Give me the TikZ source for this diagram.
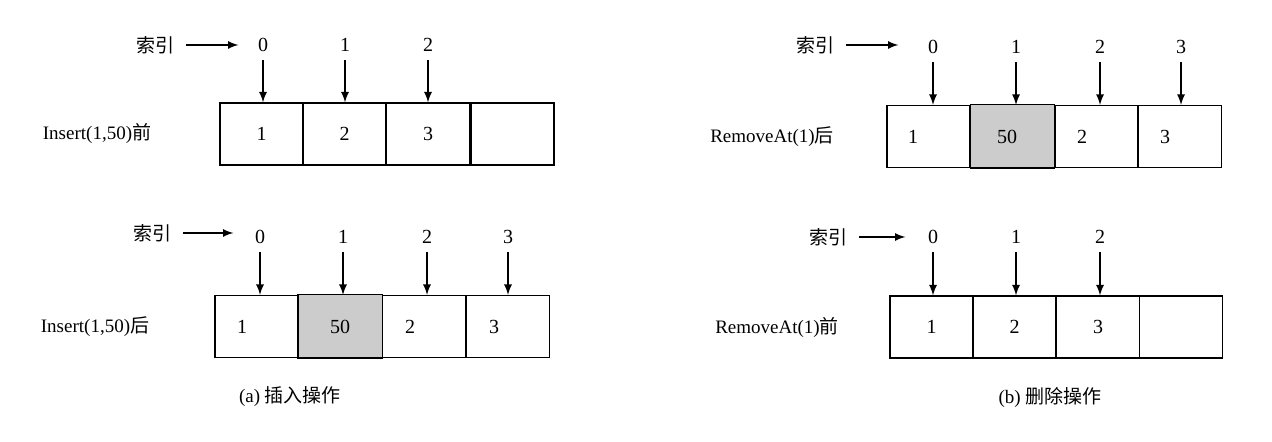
\documentclass[tikz,border=0pt]{standalone}
\usepackage{fontspec}
\setmainfont{Liberation Serif}
\newfontfamily\cjk{Noto Sans CJK SC}
\usetikzlibrary{positioning}

\tikzset{
	cell/.style={draw,semithick,minimum width=41.5pt,minimum height=31pt,inner sep=0pt,font=\fontsize{10}{12}\selectfont},
	idx/.style={font=\fontsize{10}{12}\selectfont,inner sep=1pt},
	lbl/.style={font=\fontsize{9.5}{12}\selectfont,inner sep=0pt},
	pt/.style={->,>=latex,thick}
}

\begin{document}
\begin{tikzpicture}[x=0.5pt,y=-0.5pt]
	\useasboundingbox (0,0) rectangle (1272,442);
	% (a) insert, before
	\node[lbl] (ia) at (155,45) {\cjk 索引};
	\foreach \i/\x in {0/263,1/345,2/428} \node[idx] (na\i) at (\x,45) {\i};
	\draw[pt] (ia.east) ++(6pt,0) -- ++(26pt,0);
	\foreach \i/\x/\t in {0/261.5/1,1/344.5/2,2/428/3,3/512.5/{}}
		\node[cell] (ca\i) at (\x,134) {\t};
	\node[lbl] (ta) at (97,133) {Insert(1,50){\cjk 前}};
	\foreach \i in {0,1,2} \draw[pt] (na\i.south) ++(0,-3pt) -- (na\i.south |- ca\i.north);
	% (a) insert, after
	\node[lbl] (ib) at (152,233) {\cjk 索引};
	\foreach \i/\x in {0/260,1/343,2/427,3/508} \node[idx] (nb\i) at (\x,237) {\i};
	\draw[pt] (ib.east) ++(6pt,0) -- ++(25pt,0);
	\foreach \i/\x in {0/256.5,1/340,2/424,3/508}
		\node[cell] (cb\i) at (\x,326.5) {};
	\fill[lightgray!80] (cb1.south west) rectangle (cb1.north east);
	\draw[semithick] (cb1.south west) rectangle (cb1.north east);
	\node[idx] at (242,327) {1};
	\node[idx] at (cb1) {50};
	\node[idx] at (410,327) {2};
	\node[idx] at (494,327) {3};
	\node[lbl] (tb) at (95,327) {Insert(1,50){\cjk 后}};
	\foreach \i in {0,1,2,3} \draw[pt] (nb\i.south) ++(0,-3pt) -- (nb\i.south |- cb\i.north);
	\node[lbl] (capa) at (290,397) {(a) {\cjk 插入操作}};
	% (b) remove, before
	\node[lbl] (ic) at (815,45) {\cjk 索引};
	\foreach \i/\x in {0/933,1/1016,2/1100,3/1181} \node[idx] (nc\i) at (\x,47) {\i};
	\draw[pt] (ic.east) ++(6pt,0) -- ++(26pt,0);
	\foreach \i/\x in {0/928.5,1/1012.5,2/1096.5,3/1180}
		\node[cell] (cc\i) at (\x,136.5) {};
	\fill[lightgray!80] (cc1.south west) rectangle (cc1.north east);
	\draw[semithick] (cc1.south west) rectangle (cc1.north east);
	\node[idx] at (913,137) {1};
	\node[idx] at (1007,137) {50};
	\node[idx] at (1082,137) {2};
	\node[idx] at (1165,137) {3};
	\node[lbl] (tc) at (772,137) {RemoveAt(1){\cjk 后}};
	\foreach \i in {0,1,2,3} \draw[pt] (nc\i.south) ++(0,-3pt) -- (nc\i.south |- cc\i.north);
	% (b) remove, after
	\node[lbl] (id) at (828,237) {\cjk 索引};
	\foreach \i/\x in {0/933,1/1016,2/1100} \node[idx] (nd\i) at (\x,237) {\i};
	\draw[pt] (id.east) ++(6pt,0) -- ++(23pt,0);
	\foreach \i/\x/\t in {0/931.5/1,1/1014.5/2,2/1098/3,3/1181/{}}
		\node[cell] (cd\i) at (\x,327) {\t};
	\node[lbl] (td) at (777,327) {RemoveAt(1){\cjk 前}};
	\foreach \i in {0,1,2} \draw[pt] (nd\i.south) ++(0,-3pt) -- (nd\i.south |- cd\i.north);
	\node[lbl] (capb) at (1050,397) {(b) {\cjk 删除操作}};
\end{tikzpicture}
\end{document}
